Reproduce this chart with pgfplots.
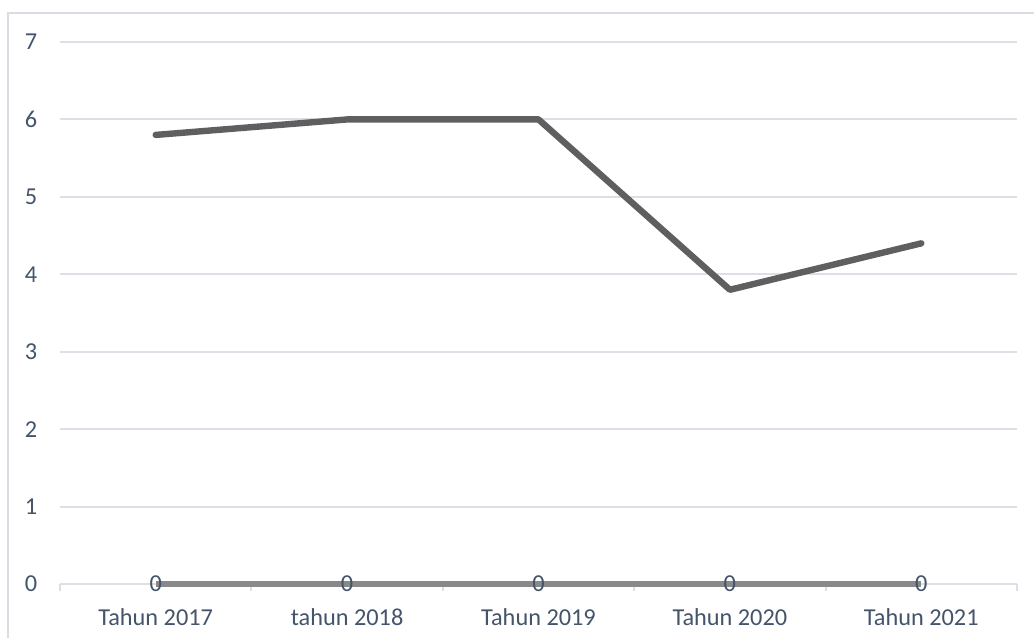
\documentclass[border=0pt]{standalone}
\usepackage{fontspec}
\setmainfont{Carlito}
\usepackage{pgfplots}
\pgfplotsset{compat=1.18}
\definecolor{textc}{RGB}{68,84,106}
\definecolor{gridc}{RGB}{220,224,230}
\definecolor{framec}{RGB}{217,220,226}
\definecolor{mainc}{RGB}{95,95,95}
\definecolor{zeroc}{RGB}{137,137,137}
\begin{document}
\begin{tikzpicture}
\path[use as bounding box] (0,0) rectangle (517bp,319bp);
\draw[framec, line width=1bp] (4bp,0) -- (4bp,312.5bp) -- (517bp,312.5bp);
\begin{axis}[
  at={(30bp,27bp)}, anchor=south west,
  scale only axis,
  width=478.5bp, height=271bp,
  xmin=-0.5, xmax=4.5, ymin=0, ymax=7,
  clip=false,
  axis x line=bottom, axis y line=left,
  axis line style={-},
  x axis line style={draw=gridc, line width=1bp},
  y axis line style={draw=none},
  xtick={0,1,2,3,4},
  xticklabels={Tahun 2017, tahun 2018, Tahun 2019, Tahun 2020, Tahun 2021},
  major x tick style={draw=none},
  minor xtick={-0.5,0.5,1.5,2.5,3.5,4.5},
  minor x tick style={draw=gridc, line width=1bp},
  minor tick length=3.5bp,
  tick align=outside,
  ytick={0,1,...,7},
  ymajorgrids,
  major grid style={draw=gridc, line width=1bp},
  major y tick style={draw=none},
  /pgf/number format/assume math mode=true,
  tick label style={font=\fontsize{12.2}{14}\selectfont, text=textc},
  xticklabel style={inner sep=0pt, anchor=north, yshift=-8bp},
  yticklabel style={inner sep=0pt, anchor=east, xshift=-7bp},
]
\addplot[mainc, line width=3.2bp, line cap=round, line join=round] coordinates {(0,5.8) (1,6) (2,6) (3,3.8) (4,4.4)};
\addplot[zeroc, line width=2.5bp, line cap=butt,
  nodes near coords={0},
  every node near coord/.append style={anchor=center, text=textc, font=\fontsize{12.2}{14}\selectfont, inner sep=0pt, yshift=0pt},
] coordinates {(0,0) (1,0) (2,0) (3,0) (4,0)};
\end{axis}
\end{tikzpicture}
\end{document}
